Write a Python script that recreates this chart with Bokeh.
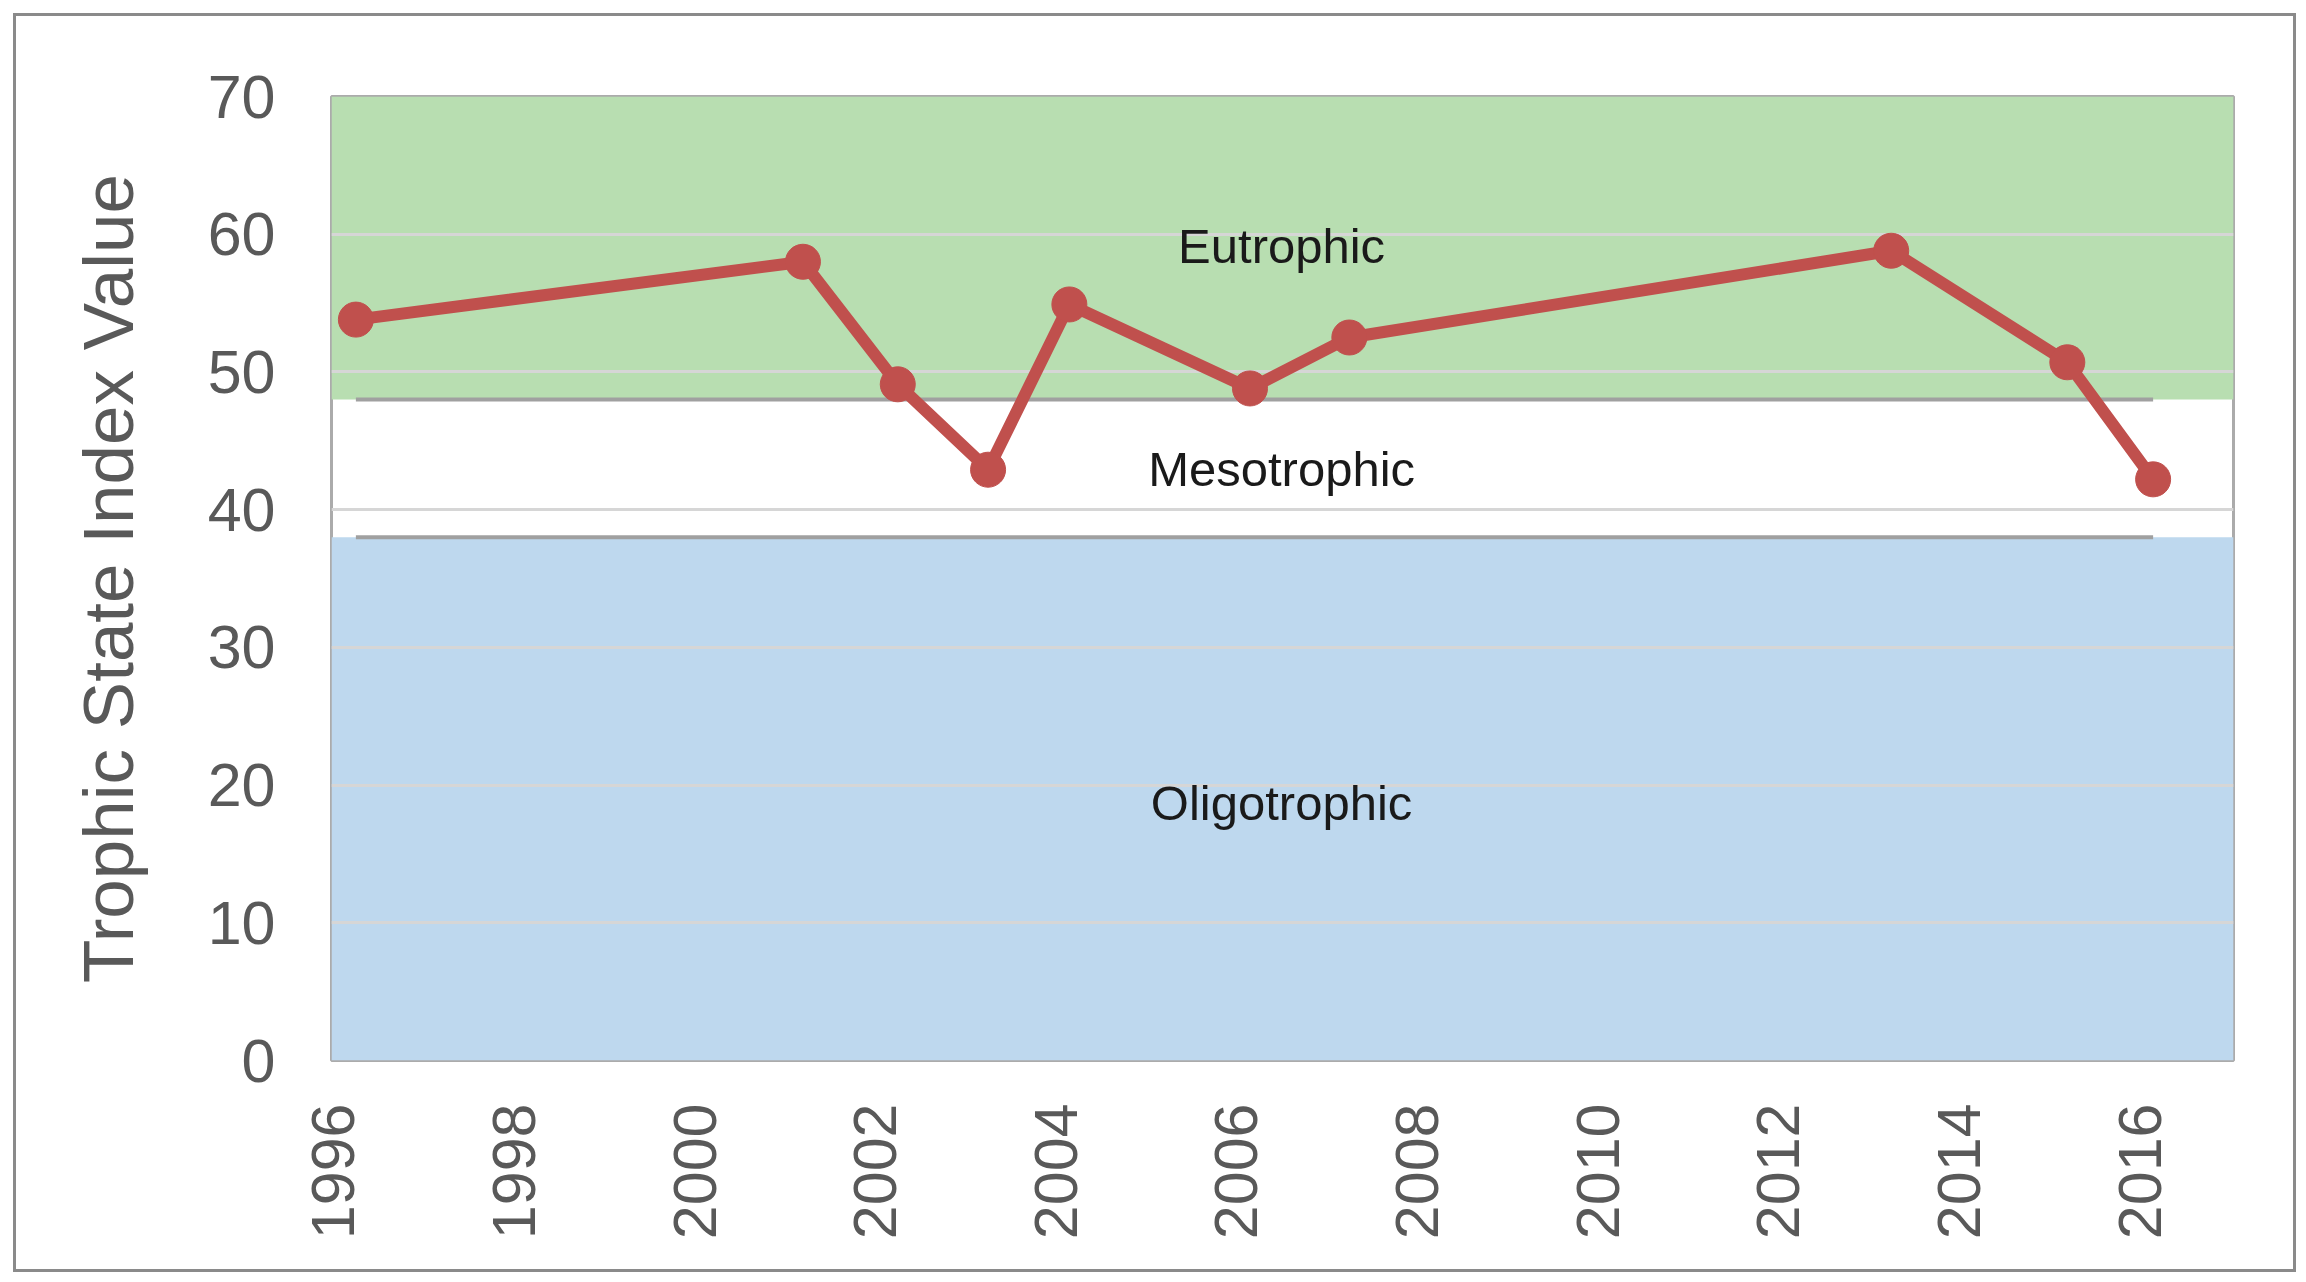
import math
from bokeh.plotting import figure
from bokeh.models import Range1d, FixedTicker, BoxAnnotation, ColumnDataSource
from bokeh.core.properties import value
from bokeh.embed import file_html
from bokeh.resources import INLINE

# ---- data ----
years = [1996.25, 2001.2, 2002.25, 2003.25, 2004.15, 2006.15, 2007.25, 2013.25, 2015.2, 2016.15]
tsi = [53.8, 58.0, 49.1, 42.9, 54.9, 48.8, 52.5, 58.8, 50.7, 42.2]
band_names = ["Eutrophic", "Mesotrophic", "Oligotrophic"]
band_lower = [48, 38, 0]
band_upper = [70, 48, 38]
thresholds = [48, 38]
x_ticks = list(range(1996, 2017, 2))
y_ticks = list(range(0, 71, 10))

# ---- styles / layout ----
band_colors = ["#b8deb1", None, "#bed8ee"]
label_x = 2006.5
label_y = [59.15, 42.95, 18.7]
FONT = "Liberation Sans"
W, H = 2283, 1259

p = figure(width=W, height=H, output_backend="svg", toolbar_location=None,
           x_range=Range1d(1995.98, 2017.04), y_range=Range1d(0, 70),
           min_border_left=315, min_border_right=66, min_border_top=80,
           min_border_bottom=215)
p.styles = {"margin-left": "13px", "margin-top": "13px",
            "border": "3px solid #8a8a8a"}
p.background_fill_color = "white"
p.border_fill_color = "white"
p.outline_line_color = "#ababab"
p.outline_line_width = 3

# bands
for lo, hi, col in zip(band_lower, band_upper, band_colors):
    if col is None:
        continue
    p.add_layout(BoxAnnotation(bottom=lo, top=hi, fill_color=col, fill_alpha=1.0,
                               line_color=None, level="image"))

# threshold lines spanning first to last sample
for t in thresholds:
    p.line(x=[years[0], years[-1]], y=[t, t], line_color="#a0a0a0", line_width=4)

# series
src = ColumnDataSource(dict(x=years, y=tsi))
p.line("x", "y", source=src, line_color="#c0504d", line_width=12)
p.scatter("x", "y", source=src, size=35, fill_color="#c0504d", line_color="#c0504d")

# band labels
lab = ColumnDataSource(dict(x=[label_x] * len(band_names), y=label_y, t=band_names))
p.text("x", "y", text="t", source=lab, text_font=value(FONT), text_font_size="49px",
       text_color="#1a1a1a", text_align="center", text_baseline="middle")

# axes
p.xaxis.ticker = FixedTicker(ticks=x_ticks)
p.yaxis.ticker = FixedTicker(ticks=y_ticks)
p.xgrid.visible = False
p.ygrid.ticker = FixedTicker(ticks=y_ticks)
p.ygrid.grid_line_color = "#d6d6d6"
p.ygrid.grid_line_width = 3

for ax in (p.xaxis[0], p.yaxis[0]):
    ax.axis_line_color = None
    ax.major_tick_line_color = None
    ax.minor_tick_line_color = None
    ax.major_tick_out = 0
    ax.major_tick_in = 0
    ax.major_label_text_font = FONT
    ax.major_label_text_font_size = "61px"
    ax.major_label_text_color = "#595959"

p.xaxis.major_label_orientation = math.pi / 2
p.xaxis.major_label_standoff = 43
p.yaxis.major_label_standoff = 56
p.yaxis.axis_label = "Trophic State Index Value"
p.yaxis.axis_label_text_font = FONT
p.yaxis.axis_label_text_font_size = "71px"
p.yaxis.axis_label_text_font_style = "normal"
p.yaxis.axis_label_text_color = "#595959"
p.yaxis.axis_label_standoff = 57

open("out.html", "w").write(file_html(p, INLINE))
